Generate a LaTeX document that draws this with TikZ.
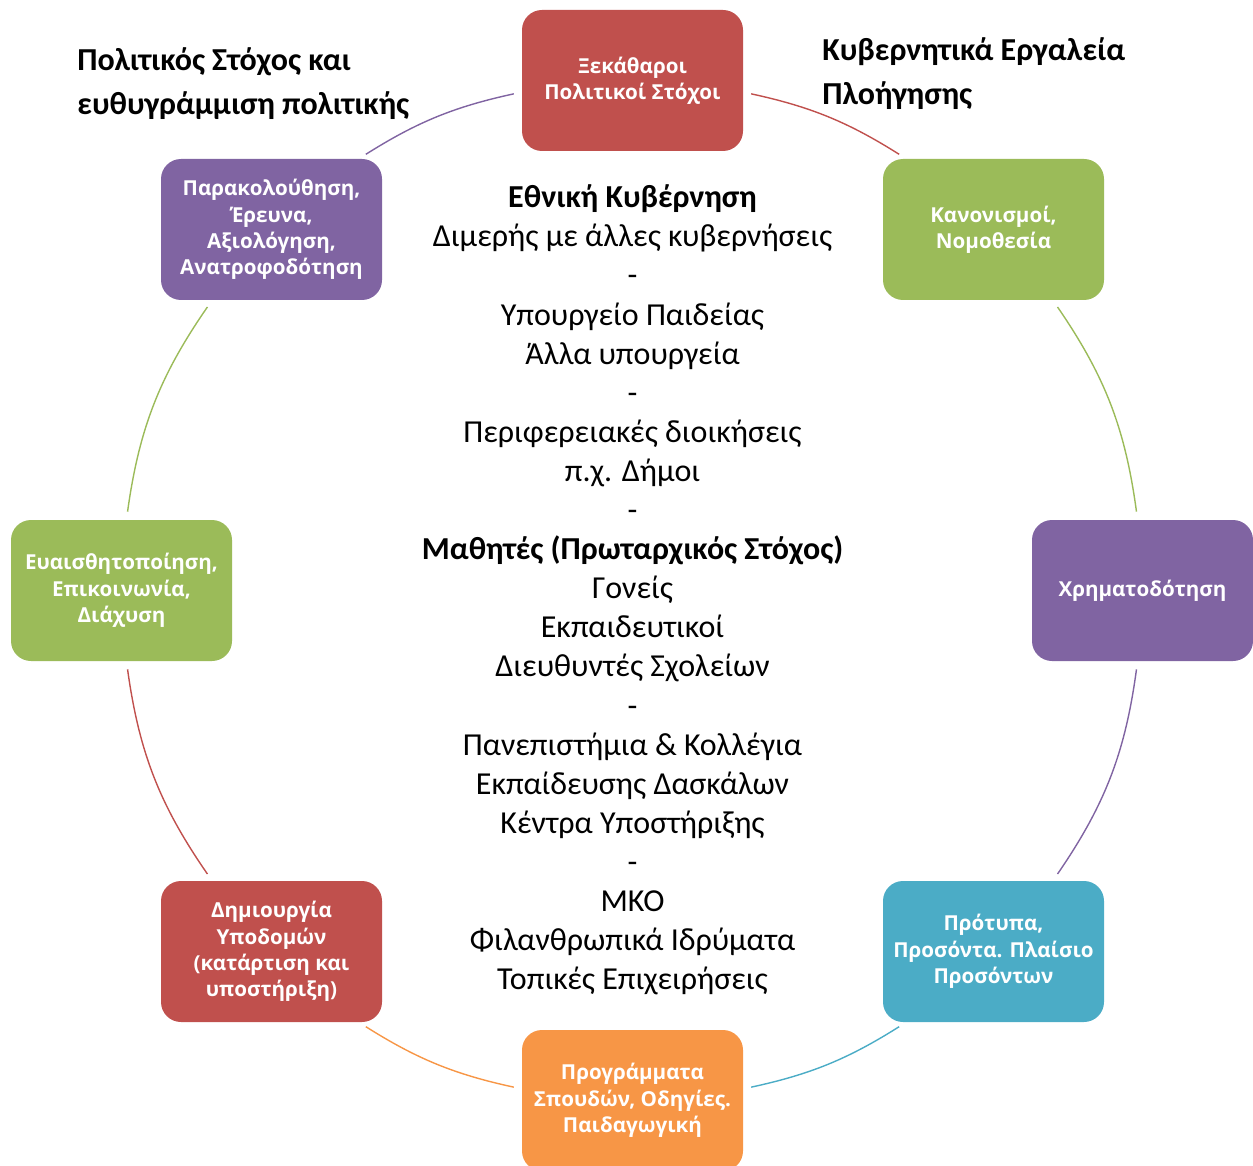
\documentclass[tikz,border=0pt]{standalone}
\usepackage{fontspec}
\setmainfont{Carlito}
\newfontfamily\boxfont{Open Sans}
\usepackage{xcolor}
\usetikzlibrary{positioning}
\definecolor{boxred}{HTML}{C0504D}
\definecolor{boxgreen}{HTML}{9BBB59}
\definecolor{boxpurple}{HTML}{8064A2}
\definecolor{boxteal}{HTML}{4BACC6}
\definecolor{boxorange}{HTML}{F79646}

\begin{document}
\begin{tikzpicture}[x=0.5pt, y=-0.5pt,
    box/.style={rectangle, rounded corners=10pt, minimum width=110.5pt, minimum height=70.5pt,
        inner sep=0pt, align=center, text=white, font=\boxfont\bfseries\fontsize{10.3}{13.15}\selectfont},
    link/.style={line width=0.7pt, shorten <=4pt, shorten >=4pt},
    heading/.style={align=left, anchor=west, inner sep=0pt, font=\bfseries\fontsize{16}{22}\selectfont}]
    \useasboundingbox (0,0) rectangle (1253,1166);

    % Titoli
    \node[heading] (headleft) at (77,84) {Πολιτικός Στόχος και\\ευθυγράμμιση πολιτικής};
    \node[heading] (headright) at (822,74) {Κυβερνητικά Εργαλεία\\Πλοήγησης};

    % Riquadri sul cerchio
    \node[box, fill=boxred] (goals) at (632.5,80.5) {Ξεκάθαροι\\Πολιτικοί Στόχοι};
    \node[box, fill=boxgreen] (laws) at (993.5,229.5) {Κανονισμοί,\\Νομοθεσία};
    \node[box, fill=boxpurple] (funding) at (1142.5,590.5) {Χρηματοδότηση};
    \node[box, fill=boxteal] (standards) at (993.5,951.5) {Πρότυπα,\\Προσόντα. Πλαίσιο\\Προσόντων};
    \node[box, fill=boxorange] (curricula) at (632.5,1100.5) {Προγράμματα\\Σπουδών, Οδηγίες.\\Παιδαγωγική};
    \node[box, fill=boxred] (infra) at (271.5,951.5) {Δημιουργία\\Υποδομών\\(κατάρτιση και\\υποστήριξη)};
    \node[box, fill=boxgreen] (awareness) at (121.5,590.5) {Ευαισθητοποίηση,\\Επικοινωνία,\\Διάχυση};
    \node[box, fill=boxpurple] (monitor) at (271.5,229.5) {Παρακολούθηση,\\Έρευνα,\\Αξιολόγηση,\\Ανατροφοδότηση};

    % Attori al centro
    \node[align=center, inner sep=0pt, font=\fontsize{16}{19.55}\selectfont] (actors) at (632.5,590) {%
        \textbf{Εθνική Κυβέρνηση}\\Διμερής με άλλες κυβερνήσεις\\-\\Υπουργείο Παιδείας\\Άλλα υπουργεία\\-\\%
        Περιφερειακές διοικήσεις\\π.χ. Δήμοι\\-\\\textbf{Μαθητές (Πρωταρχικός Στόχος)}\\Γονείς\\Εκπαιδευτικοί\\%
        Διευθυντές Σχολείων\\-\\Πανεπιστήμια \& Κολλέγια\\Εκπαίδευσης Δασκάλων\\Κέντρα Υποστήριξης\\-\\%
        ΜΚΟ\\Φιλανθρωπικά Ιδρύματα\\Τοπικές Επιχειρήσεις};

    % Archi del cerchio
    \draw[link, boxred] (goals.-6) to[bend left=10] (laws.141);
    \draw[link, boxgreen] (laws.-50) to[bend left=13.4] (funding.94);
    \draw[link, boxpurple] (funding.-94) to[bend left=13.4] (standards.50);
    \draw[link, boxteal] (standards.-141) to[bend left=10] (curricula.6);
    \draw[link, boxorange] (curricula.174) to[bend left=10] (infra.-39);
    \draw[link, boxred] (infra.130) to[bend left=13.4] (awareness.-86);
    \draw[link, boxgreen] (awareness.86) to[bend left=13.4] (monitor.-130);
    \draw[link, boxpurple] (monitor.39) to[bend left=10] (goals.186);
\end{tikzpicture}
\end{document}
